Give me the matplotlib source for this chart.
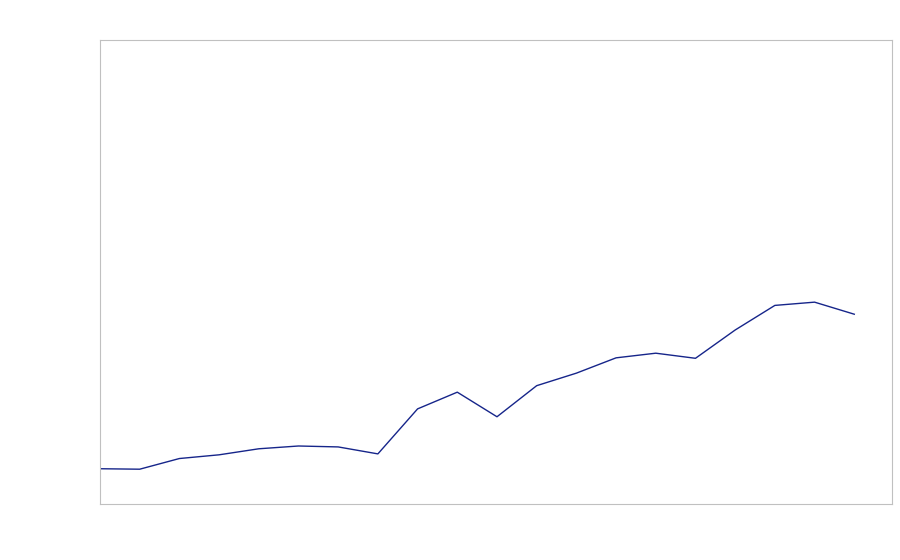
import matplotlib
matplotlib.use("Agg")
import matplotlib.pyplot as plt

# series (no labels shown on the chart)
x_index = list(range(20))
values = [7.6, 7.5, 9.8, 10.6, 11.9, 12.5, 12.3, 10.8, 20.5, 24.1,
          18.8, 25.5, 28.2, 31.5, 32.5, 31.4, 37.5, 42.8, 43.5, 40.9]

fig = plt.figure(figsize=(9, 5.6), dpi=100)
ax = fig.add_axes([0.1111, 0.1, 0.88, 0.8286])

ax.plot(x_index, values, color="#16258a", lw=1.0)

ax.set_xlim(0, 19.95)
ax.set_ylim(0, 100)
ax.set_xticks([])
ax.set_yticks([])
for s in ax.spines.values():
    s.set_color("#c0c0c0")
    s.set_linewidth(0.8)

fig.savefig("out.png", dpi=100)
